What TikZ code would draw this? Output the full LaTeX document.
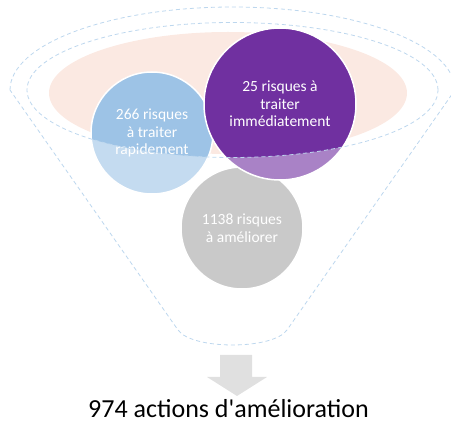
\documentclass[tikz,border=0pt]{standalone}
\usepackage{fontspec}
\setmainfont{Carlito}
\usepackage{tikz}
\definecolor{fnRose}{HTML}{FBE9E2}
\definecolor{fnBleu}{HTML}{9DC3E6}
\definecolor{fnViolet}{HTML}{7030A0}
\definecolor{fnGris}{HTML}{A6A6A6}
\definecolor{fnTrait}{HTML}{BDD7EE}
\definecolor{fnFleche}{HTML}{E0E0E0}
\usetikzlibrary{positioning}

\begin{document}
\begin{tikzpicture}[x=1pt,y=1pt, bulle/.style={circle,draw=white,line width=1.5pt,text=white,align=center,inner sep=0pt,font=\fontsize{15.5}{17.5}\selectfont}, trait/.style={draw=fnTrait,line width=0.8pt,dash pattern=on 4pt off 3pt}]
\useasboundingbox (0,0) rectangle (451,423);
\fill[fnRose] (228,330) ellipse[x radius=179,y radius=61];
\node[bulle,fill=fnGris,minimum size=122pt] (ameliorer) at (242,195) {1138 risques\\à améliorer};
\node[bulle,fill=fnBleu,minimum size=122pt] (rapide) at (152,290) {266 risques\\à traiter\\rapidement};
\node[bulle,fill=fnViolet,minimum size=152pt] (immediat) at (280,319) {25 risques à\\traiter\\immédiatement};
% partie basse de l'entonnoir, plus claire
\fill[white,fill opacity=.4,even odd rule] (10,333) arc[start angle=180,end angle=0,x radius=222.5,y radius=83] -- (287,93) .. controls (273,73) and (192,73) .. (178,93) -- cycle (232.5,333) ellipse[x radius=205.5,y radius=67.5];
\draw[trait] (10,333) arc[start angle=180,end angle=0,x radius=222.5,y radius=83] -- (287,93) .. controls (273,73) and (192,73) .. (178,93) -- cycle;
\draw[trait] (232.5,333) ellipse[x radius=205.5,y radius=67.5];
\fill[fnFleche] (220,68) -- (252,68) -- (252,46) -- (267,46) -- (237,27) -- (207,46) -- (220,46) -- cycle;
\node[anchor=base,font=\fontsize{26}{30}\selectfont,inner sep=0pt] (actions) at (228.5,5) {974 actions d\textquotesingle amélioration};
\end{tikzpicture}
\end{document}
